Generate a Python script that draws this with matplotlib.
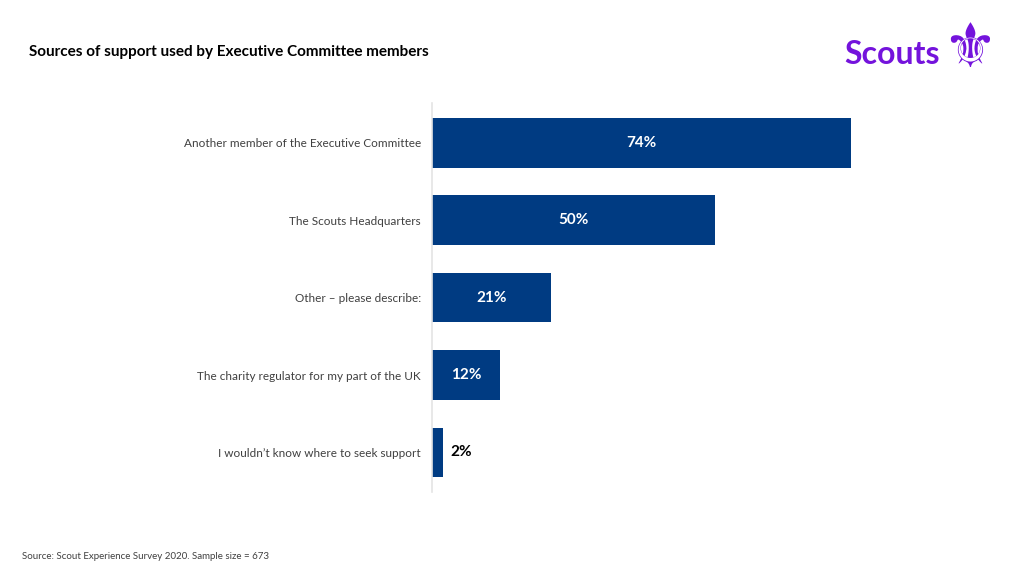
import matplotlib.pyplot as plt

categories = ["Another member of the Executive Committee",
              "The Scouts Headquarters",
              "Other \u2013 please describe:",
              "The charity regulator for my part of the UK",
              "I wouldn\u2019t know where to seek support"]
values = [74, 50, 21, 12, 2]

plt.rcParams['font.family'] = ['Lato', 'DejaVu Sans']

fig = plt.figure(figsize=(10.24, 5.76), dpi=100)
ax = fig.add_axes([0.4219, 0.1458, 0.5566, 0.6754])

pos = list(range(len(categories)))
ax.barh(pos, values, height=0.645, color="#003b82")
ax.set_xlim(0, 100.6)
ax.set_ylim(4.51, -0.51)
ax.set_yticks(pos)
ax.set_yticklabels(categories, fontsize=8.5, color="#404040")
ax.tick_params(axis='y', length=0, pad=8)
ax.set_xticks([])
for s in ["top", "right", "bottom"]:
    ax.spines[s].set_visible(False)
ax.spines["left"].set_color("#e4e4e4")
ax.spines["left"].set_linewidth(1.2)

for p, v in zip(pos, values):
    if v >= 5:
        ax.text(v / 2, p, f"{v}%", ha="center", va="center", color="white",
                fontsize=11, fontweight="bold")
    else:
        ax.text(v + 1.2, p, f"{v}%", ha="left", va="center", color="black",
                fontsize=11, fontweight="bold")

fig.text(0.028, 0.909, "Sources of support used by Executive Committee members",
         fontsize=11, fontweight="bold", ha="left", va="center")
fig.text(0.021, 0.033, "Source: Scout Experience Survey 2020. Sample size = 673",
         fontsize=7, color="#404040", ha="left", va="center")

# logo
fig.text(0.825, 0.905, "Scouts", fontsize=23, fontweight="bold", color="#7413dc",
         ha="left", va="center")
fig.text(0.947, 0.912, "\u269c", fontsize=44, color="#7413dc",
         ha="center", va="center", family="DejaVu Sans")

fig.savefig("out.png", dpi=100, facecolor="white")
